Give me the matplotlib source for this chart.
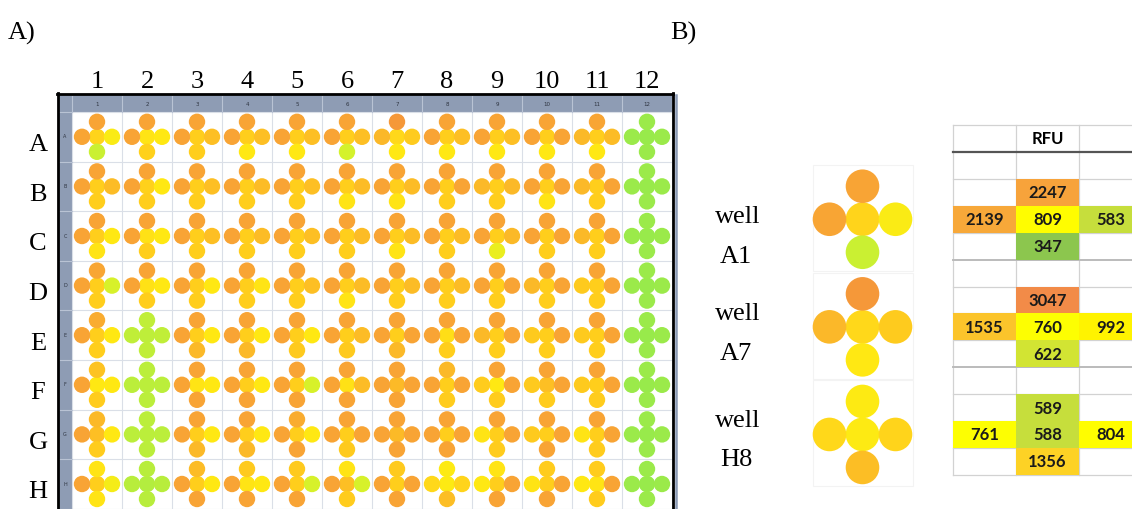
import numpy as np
import matplotlib
matplotlib.use("Agg")
import matplotlib.pyplot as plt
from matplotlib.patches import Circle, Rectangle
from matplotlib.colors import LinearSegmentedColormap, Normalize
from matplotlib import font_manager

# ---------------------------------------------------------------------------
# Plate layout and per-spot fluorescence (RFU), 8 rows x 12 columns.
# Each well is read at five spots: top, left, centre, right, bottom.
# ---------------------------------------------------------------------------
row_labels = list("ABCDEFGH")
col_labels = [str(i) for i in range(1, 13)]

spot_top = np.array([
    [2247, 2200, 2200, 2200, 2250, 2200, 3047, 2200, 2200, 2200, 2150, 100],
    [2200, 2200, 2200, 2200, 2200, 2200, 2200, 2200, 2200, 2200, 2200, 100],
    [2200, 2200, 2200, 2200, 2200, 2200, 2200, 2200, 2200, 2200, 2200, 100],
    [2100, 2200, 2200, 2200, 2200, 2200, 2200, 2200, 2200, 2200, 2200, 100],
    [1900, 280, 2200, 2200, 2200, 2200, 2200, 2200, 2200, 2200, 2200, 100],
    [1200, 260, 2200, 2200, 2200, 2200, 2200, 1500, 2200, 2200, 2200, 100],
    [1500, 260, 2200, 2200, 1900, 2200, 2200, 2200, 2200, 2200, 2200, 100],
    [650, 240, 1400, 1000, 1000, 650, 1000, 589, 650, 950, 950, 100],
])

spot_left = np.array([
    [2139, 2200, 2200, 2200, 2200, 2200, 1535, 2200, 2200, 2200, 1500, 100],
    [2200, 2200, 2200, 2200, 2200, 2200, 2200, 2200, 1500, 2200, 1500, 100],
    [2200, 2200, 2200, 2200, 2200, 2200, 2200, 2200, 2200, 2200, 1500, 100],
    [2200, 2200, 2200, 2200, 2200, 2200, 2200, 2200, 2200, 1500, 1000, 100],
    [2200, 280, 2200, 2200, 2200, 2200, 2200, 2200, 1500, 1000, 1000, 100],
    [2200, 260, 2200, 2200, 2200, 2200, 2200, 2200, 950, 1000, 1000, 100],
    [2200, 260, 2200, 2200, 2200, 2200, 2200, 2200, 650, 1000, 650, 100],
    [2200, 240, 2200, 2200, 2200, 2200, 2200, 761, 620, 650, 620, 100],
])

spot_center = np.array([
    [809, 650, 900, 900, 900, 900, 760, 900, 900, 900, 900, 80],
    [900, 850, 900, 900, 900, 900, 900, 900, 900, 900, 900, 80],
    [900, 680, 900, 900, 900, 900, 900, 900, 900, 900, 900, 80],
    [900, 680, 900, 900, 900, 900, 900, 900, 900, 900, 900, 80],
    [900, 270, 900, 900, 900, 900, 900, 700, 900, 900, 900, 80],
    [620, 250, 650, 900, 900, 680, 1450, 900, 620, 1300, 900, 80],
    [1300, 250, 900, 900, 900, 900, 1450, 900, 900, 900, 900, 80],
    [900, 220, 900, 650, 900, 1300, 900, 588, 900, 900, 650, 80],
])

spot_right = np.array([
    [583, 620, 1300, 1300, 1300, 1300, 992, 1300, 1300, 2200, 1400, 100],
    [1400, 620, 1300, 1400, 1300, 1400, 1400, 2200, 1500, 2200, 2200, 100],
    [620, 620, 1300, 1400, 1300, 1400, 1400, 1400, 1500, 2200, 2200, 100],
    [420, 620, 620, 650, 1300, 1400, 1400, 1400, 2200, 2200, 2200, 100],
    [620, 280, 620, 620, 620, 1400, 2200, 2200, 2200, 2200, 2200, 100],
    [620, 260, 620, 620, 420, 1400, 2200, 2200, 2200, 2200, 2200, 100],
    [620, 260, 620, 620, 620, 2200, 2200, 2200, 2200, 2200, 2200, 100],
    [560, 240, 620, 620, 420, 420, 2200, 804, 2200, 2200, 2200, 100],
])

spot_bottom = np.array([
    [347, 850, 900, 620, 620, 400, 622, 620, 620, 620, 620, 100],
    [900, 900, 900, 900, 900, 650, 650, 900, 900, 650, 900, 100],
    [650, 900, 900, 900, 900, 900, 650, 900, 500, 900, 900, 100],
    [900, 900, 900, 900, 900, 650, 900, 900, 900, 900, 900, 100],
    [900, 280, 1500, 1500, 1000, 1000, 1500, 900, 900, 900, 900, 100],
    [950, 260, 2200, 2200, 2200, 2200, 2200, 950, 950, 950, 950, 100],
    [950, 260, 1500, 1500, 2200, 1000, 2200, 2200, 950, 2200, 950, 100],
    [650, 240, 2200, 2200, 2200, 950, 2200, 1356, 2200, 2200, 950, 100],
])

# Selected wells shown enlarged with their RFU table
sel_wells = ["A1", "A7", "H8"]
sel_top = [2247, 3047, 589]
sel_left = [2139, 1535, 761]
sel_center = [809, 760, 588]
sel_right = [583, 992, 804]
sel_bottom = [347, 622, 1356]
table_header = "RFU"

# ---------------------------------------------------------------------------
# Colour scales
# ---------------------------------------------------------------------------
plate_vmax = 3200.0
plate_nodes = [(0, "#90E84E"), (100, "#9BEA4A"), (260, "#BDEE3A"),
               (400, "#D4F22C"), (600, "#FFEA12"), (750, "#FFD81A"),
               (900, "#FFCE1C"), (1400, "#FCBC26"), (2100, "#F8A634"),
               (3200, "#F5963A")]
plate_cmap = LinearSegmentedColormap.from_list(
    "plate", [(v / plate_vmax, c) for v, c in plate_nodes])
plate_norm = Normalize(0, plate_vmax)

table_vmax = 3100.0
table_nodes = [(0, "#8CC64E"), (347, "#8CC64E"), (590, "#C8DF3B"),
               (622, "#D3E432"), (760, "#FFFF00"), (1000, "#FFF200"),
               (1356, "#FDD126"), (1535, "#FBC42B"), (2200, "#F7A53A"),
               (3047, "#F28B48"), (3100, "#F28B48")]
table_cmap = LinearSegmentedColormap.from_list(
    "table", [(v / table_vmax, c) for v, c in table_nodes])
table_norm = Normalize(0, table_vmax)


def pcol(v):
    return plate_cmap(plate_norm(v))


def tcol(v):
    return table_cmap(table_norm(v))


# ---------------------------------------------------------------------------
# Figure in pixel coordinates
# ---------------------------------------------------------------------------
W, H = 1132, 509
fig = plt.figure(figsize=(W / 100, H / 100), dpi=100)
ax = fig.add_axes([0, 0, 1, 1])
ax.set_xlim(0, W)
ax.set_ylim(H, 0)
ax.axis("off")

serif = "Liberation Serif"
big = 19

# ----------------------------- Panel A -------------------------------------
ax.text(8, 40, "A)", fontsize=big, family=serif, va="baseline", ha="left")

x0, y0 = 72.0, 112.0
cw, ch = 50.0, 49.6
n_rows, n_cols = spot_center.shape

# header strips
strip = "#8E9CB4"
ax.add_patch(Rectangle((58, 95), x0 + n_cols * cw - 58, y0 - 95,
                       facecolor=strip, edgecolor="none", zorder=1))
ax.add_patch(Rectangle((58, 95), x0 - 58, H - 95,
                       facecolor=strip, edgecolor="none", zorder=1))
for k in range(n_cols + 1):
    ax.plot([x0 + k * cw] * 2, [96, y0], color="#B9C3D4", lw=0.8, zorder=2)
for k in range(n_rows + 1):
    ax.plot([58, x0], [y0 + k * ch] * 2, color="#B9C3D4", lw=0.8, zorder=2)
for c, lab in enumerate(col_labels):
    ax.text(x0 + (c + 0.5) * cw, 104, lab, fontsize=4, color="#2E3440",
            ha="center", va="center", zorder=3)
for r, lab in enumerate(row_labels):
    ax.text(65, y0 + (r + 0.5) * ch, lab, fontsize=3.5, color="#2E3440",
            ha="center", va="center", zorder=3)

# cell grid
for k in range(n_cols + 1):
    ax.plot([x0 + k * cw] * 2, [y0, H], color="#DADFE7", lw=0.8, zorder=1)
for k in range(n_rows + 1):
    ax.plot([x0, x0 + n_cols * cw], [y0 + k * ch] * 2, color="#DADFE7",
            lw=0.8, zorder=1)

# frame
right_edge = x0 + n_cols * cw + 1
ax.plot([57.5, 57.5], [93, H], color="black", lw=2.0, zorder=5)
ax.plot([57, right_edge], [94, 94], color="black", lw=2.0, zorder=5)
ax.plot([right_edge, right_edge], [93, H], color="black", lw=2.0, zorder=5)
ax.plot([right_edge + 3, right_edge + 3], [95, H], color="#8A9AB5", lw=1.8,
        zorder=5)

# column numbers / row letters
for c, lab in enumerate(col_labels):
    ax.text(x0 + (c + 0.5) * cw, 88, lab, fontsize=big, family=serif,
            ha="center", va="baseline")
for r, lab in enumerate(row_labels):
    ax.text(38, y0 + (r + 0.5) * ch + 14.5, lab, fontsize=big, family=serif,
            ha="center", va="baseline")

# spots
off, rad = 15.0, 8.2
spots = [(0, 0, spot_center), (0, -off, spot_top), (-off, 0, spot_left),
         (off, 0, spot_right), (0, off, spot_bottom)]
for r in range(n_rows):
    for c in range(n_cols):
        cx = x0 + (c + 0.5) * cw
        cy = y0 + (r + 0.5) * ch
        for dx, dy, arr in spots:
            ax.add_patch(Circle((cx + dx, cy + dy), rad,
                                facecolor=pcol(arr[r, c]), edgecolor="none",
                                zorder=3))

# ----------------------------- Panel B -------------------------------------
ax.text(670, 40, "B)", fontsize=big, family=serif, va="baseline", ha="left")

rh = 26.9
t_top = 152.0
tcols = [953.0, 1016.0, 1079.0, 1142.0]
tcx = [(tcols[i] + tcols[i + 1]) / 2 for i in range(3)]
well_word_y = [223, 320, 427]
well_id_y = [263, 360, 466]

big_off, big_rad = 33.0, 16.8
for i, name in enumerate(sel_wells):
    cy = t_top + (4 * i + 2.5) * rh
    cx = 862.5
    ax.add_patch(Rectangle((cx - 50, cy - 54), 100, 106, facecolor="white",
                           edgecolor="#F3F3F3", lw=0.8, zorder=1))
    for dx, dy, v in [(0, 0, sel_center[i]), (0, -big_off, sel_top[i]),
                      (-big_off, 0, sel_left[i]), (big_off, 0, sel_right[i]),
                      (0, big_off, sel_bottom[i])]:
        ax.add_patch(Circle((cx + dx, cy + dy), big_rad, facecolor=pcol(v),
                            edgecolor="none", zorder=3))
    ax.text(715, well_word_y[i], "well", fontsize=big, family=serif,
            ha="left", va="baseline")
    ax.text(720, well_id_y[i], name, fontsize=big, family=serif,
            ha="left", va="baseline")

# table font
installed = {f.name for f in font_manager.fontManager.ttflist}
if "Liberation Sans Narrow" in installed:
    tfam, tsize = "Liberation Sans Narrow", 14.5
else:
    tfam, tsize = "Lato", 12

n_trows = 12
t_bottom = t_top + n_trows * rh
grid_c = "#D2D2D2"
for x in tcols[:3]:
    ax.plot([x, x], [125, t_bottom], color=grid_c, lw=0.9, zorder=1)
ax.plot([tcols[0], W], [125, 125], color=grid_c, lw=0.9, zorder=1)
for k in range(1, n_trows + 1):
    sep = (k % 4 == 0) and k < n_trows
    ax.plot([tcols[0], W], [t_top + k * rh] * 2,
            color="#BBBBBB" if sep else grid_c, lw=1.4 if sep else 0.9,
            zorder=1)
ax.plot([tcols[0], W], [t_top, t_top], color="#555555", lw=1.6, zorder=4)
ax.text(tcx[1], 139, table_header, fontsize=tsize, family=tfam,
        weight="bold", ha="center", va="center", zorder=5)

for i in range(len(sel_wells)):
    base = 4 * i
    cells = [(base + 1, 1, sel_top[i]), (base + 2, 0, sel_left[i]),
             (base + 2, 1, sel_center[i]), (base + 2, 2, sel_right[i]),
             (base + 3, 1, sel_bottom[i])]
    for rr, cc, v in cells:
        ax.add_patch(Rectangle((tcols[cc], t_top + rr * rh),
                               tcols[cc + 1] - tcols[cc], rh,
                               facecolor=tcol(v), edgecolor="none", zorder=2))
        ax.text(tcx[cc], t_top + (rr + 0.5) * rh + 1, str(v), fontsize=tsize,
                family=tfam, weight="bold", ha="center", va="center",
                color="#1A1A1A", zorder=5)

fig.savefig("out.png", dpi=100)
